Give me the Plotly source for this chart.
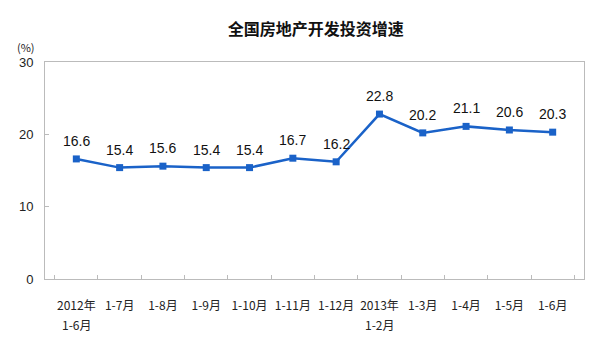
import plotly.graph_objects as go

categories = ["2012年1-6月", "1-7月", "1-8月", "1-9月", "1-10月", "1-11月", "1-12月",
              "2013年1-2月", "1-3月", "1-4月", "1-5月", "1-6月"]
tick_line1 = ["2012年", "1-7月", "1-8月", "1-9月", "1-10月", "1-11月", "1-12月",
              "2013年", "1-3月", "1-4月", "1-5月", "1-6月"]
tick_line2 = ["1-6月", "", "", "", "", "", "", "1-2月", "", "", "", ""]
values = [16.6, 15.4, 15.6, 15.4, 15.4, 16.7, 16.2, 22.8, 20.2, 21.1, 20.6, 20.3]
y_ticks = [0, 10, 20, 30]

FONT = "Noto Sans CJK SC"
NUMFONT = "Liberation Sans"
BLUE = "#1a62c8"

fig = go.Figure()
fig.add_trace(go.Scatter(
    x=categories, y=values, mode="lines+markers",
    line=dict(color=BLUE, width=2.5),
    marker=dict(symbol="square", size=7, color=BLUE),
    hoverinfo="skip",
))

for c, v in zip(categories, values):
    fig.add_annotation(x=c, y=v, text=f"{v:.1f}", showarrow=False,
                       yshift=18, font=dict(family=NUMFONT, size=14, color="#111"))

for c, t in zip(categories, tick_line2):
    if t:
        fig.add_annotation(x=c, xref="x", yref="paper", y=0, yanchor="middle",
                           yshift=-45, text=t, showarrow=False,
                           font=dict(family=FONT, size=12, color="#222"))

fig.add_annotation(xref="paper", yref="paper", x=-0.035, y=1.069, xanchor="center",
                   yanchor="middle", text="(%)", showarrow=False,
                   font=dict(family=FONT, size=11, color="#222"))

fig.update_layout(
    width=592, height=354,
    margin=dict(l=37, r=16, t=54, b=83),
    paper_bgcolor="white", plot_bgcolor="white",
    showlegend=False,
    title=dict(text="<b>全国房地产开发投资增速</b>", x=0.52, xanchor="center", y=0.94,
               yanchor="middle", font=dict(family=FONT, size=16, color="#111")),
    font=dict(family=FONT, size=12, color="#222"),
)
fig.update_xaxes(
    type="category", tickson="boundaries", ticks="inside", ticklen=4,
    tickcolor="#bbb", showline=True, linecolor="#bbb", linewidth=1, mirror=True,
    showgrid=False, tickfont=dict(family=FONT, size=12, color="#222"),
    tickmode="array", tickvals=categories, ticktext=tick_line1,
    tickangle=0, ticklabelstandoff=16,
)
fig.update_yaxes(
    range=[0, 30], tickvals=y_ticks, ticks="inside", ticklen=4, tickcolor="#bbb",
    showline=True, linecolor="#bbb", linewidth=1, mirror=True, showgrid=False,
    zeroline=False, ticklabelstandoff=8,
    tickfont=dict(family=NUMFONT, size=13, color="#222"),
)

fig.write_html("out.html")
